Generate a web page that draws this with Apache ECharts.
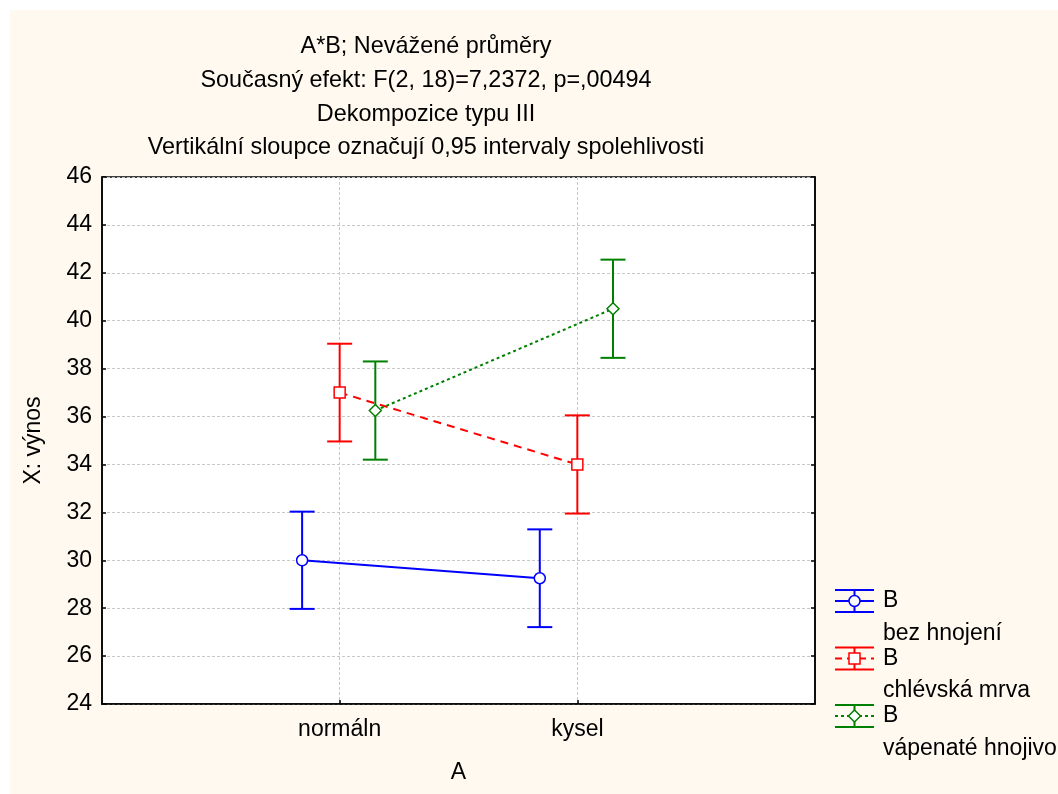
<!DOCTYPE html>
<html>
<head>
<meta charset="utf-8">
<script src="https://cdn.jsdelivr.net/npm/echarts@6/dist/echarts.min.js"></script>
<style>
  html, body { margin: 0; padding: 0; background: #fff; }
  #chart { width: 1058px; height: 794px; }
</style>
</head>
<body>
<div id="chart"></div>
<script>
// levels of factor A (x axis) and factor B (one line per level)
const categories = ['normáln', 'kysel'];
const groupNames = ['bez hnojení', 'chlévská mrva', 'vápenaté hnojivo'];
const groupColors = ['#0000ff', '#ff0000', '#008000'];

// unweighted means of X: výnos, per level of A
const meanBez = [30.0, 29.25];
const meanMrva = [37.0, 34.0];
const meanVapno = [36.25, 40.5];

// half width of the 0,95 confidence interval
const ciBez = [2.03, 2.04];
const ciMrva = [2.04, 2.05];
const ciVapno = [2.05, 2.05];

const yTicks = { min: 24, max: 46, step: 2 };

const FONT = 'Arial, "Liberation Sans", sans-serif';
const means = [meanBez, meanMrva, meanVapno];
const cis = [ciBez, ciMrva, ciVapno];
// small horizontal dodge so the bars do not overlap
const dodge = [-0.158, 0, 0.15];
const symbols = ['circle', 'rect', 'diamond'];
const symbolSizes = [11, 11, 12];
const lineTypes = ['solid', [8, 6], [3, 3]];

const chartContainer = document.getElementById('chart');
const chart = echarts.init(chartContainer, null, { renderer: 'canvas' });

const lineSeries = means.map((m, g) => ({
  name: groupNames[g],
  type: 'line',
  z: 5,
  data: m.map((v, i) => [i + 1 + dodge[g], v]),
  symbol: symbols[g],
  symbolSize: symbolSizes[g],
  showSymbol: true,
  itemStyle: { color: '#fff', borderColor: groupColors[g], borderWidth: 1.5 },
  lineStyle: { color: groupColors[g], width: 2, type: lineTypes[g] },
  emphasis: { disabled: true },
  animation: false
}));

const errorSeries = means.map((m, g) => ({
  name: groupNames[g] + ' CI',
  type: 'custom',
  z: 3,
  data: m.map((v, i) => [i + 1 + dodge[g], v - cis[g][i], v + cis[g][i]]),
  renderItem: (params, api) => {
    const x = api.value(0);
    const top = api.coord([x, api.value(2)]);
    const bot = api.coord([x, api.value(1)]);
    const hw = 12.5;
    const style = { stroke: groupColors[g], lineWidth: 2 };
    return {
      type: 'group',
      children: [
        { type: 'line', shape: { x1: top[0], y1: top[1], x2: bot[0], y2: bot[1] }, style },
        { type: 'line', shape: { x1: top[0] - hw, y1: top[1], x2: top[0] + hw, y2: top[1] }, style },
        { type: 'line', shape: { x1: bot[0] - hw, y1: bot[1], x2: bot[0] + hw, y2: bot[1] }, style }
      ]
    };
  },
  animation: false
}));

// legend drawn by hand: the glyph is an error bar with the marker on it
const legendX = 835, legendY0 = 601, legendStep = 57.5;
const legendItems = [];
groupNames.forEach((name, g) => {
  const cy = legendY0 + g * legendStep;
  const c = groupColors[g];
  const cx = legendX + 19.5;
  const st = { stroke: c, lineWidth: 2 };
  const dash = g === 0 ? null : (g === 1 ? [7, 5] : [3, 3]);
  let marker;
  if (g === 0) marker = { type: 'circle', shape: { cx, cy, r: 5.5 }, style: { fill: '#fff', stroke: c, lineWidth: 1.5 } };
  else if (g === 1) marker = { type: 'rect', shape: { x: cx - 5.5, y: cy - 5.5, width: 11, height: 11 }, style: { fill: '#fff', stroke: c, lineWidth: 1.5 } };
  else marker = { type: 'polygon', shape: { points: [[cx, cy - 6], [cx + 6, cy], [cx, cy + 6], [cx - 6, cy]] }, style: { fill: '#fff', stroke: c, lineWidth: 1.5 } };
  legendItems.push(
    { type: 'line', shape: { x1: legendX, y1: cy - 11, x2: legendX + 39, y2: cy - 11 }, style: st },
    { type: 'line', shape: { x1: legendX, y1: cy + 11, x2: legendX + 39, y2: cy + 11 }, style: st },
    { type: 'line', shape: { x1: cx, y1: cy - 11, x2: cx, y2: cy + 11 }, style: st },
    { type: 'line', shape: { x1: legendX, y1: cy, x2: legendX + 39, y2: cy }, style: { stroke: c, lineWidth: 2, lineDash: dash } },
    marker,
    { type: 'text', x: 883, y: cy, style: { text: 'B', font: '23px ' + FONT, fill: '#000', textVerticalAlign: 'middle' } },
    { type: 'text', x: 883, y: cy + 32.5, style: { text: name, font: '23px ' + FONT, fill: '#000', textVerticalAlign: 'middle' } }
  );
});

const axisCommon = {
  axisLine: { show: true, lineStyle: { color: '#000', width: 1.5 } },
  axisTick: { show: true, inside: true, length: 4, lineStyle: { color: '#000', width: 1.5 } },
  splitLine: { show: true, lineStyle: { color: '#c8c8c8', width: 1, type: [3, 2] } }
};

const option = {
  backgroundColor: '#ffffff',
  textStyle: { fontFamily: FONT },
  title: {
    text: 'A*B; Nevážené průměry\nSoučasný efekt: F(2, 18)=7,2372, p=,00494\nDekompozice typu III\nVertikální sloupce označují 0,95 intervaly spolehlivosti',
    left: 421,
    top: 25,
    textAlign: 'center',
    textStyle: { fontFamily: FONT, fontSize: 23.4, fontWeight: 'normal', color: '#000', lineHeight: 33.7 }
  },
  grid: {
    left: 102, right: 243, top: 177, bottom: 90,
    show: true, backgroundColor: '#ffffff', borderColor: '#000', borderWidth: 1.5,
    containLabel: false
  },
  xAxis: {
    type: 'value',
    min: 0, max: 3, interval: 1,
    name: 'A', nameLocation: 'middle', nameGap: 57,
    nameTextStyle: { fontFamily: FONT, fontSize: 23, color: '#000' },
    ...axisCommon,
    axisTick: { ...axisCommon.axisTick, customValues: [1, 2] },
    axisLabel: {
      fontFamily: FONT, fontSize: 23, color: '#000', margin: 14,
      customValues: [1, 2],
      formatter: v => categories[v - 1] || ''
    }
  },
  yAxis: [{
    type: 'value',
    min: yTicks.min, max: yTicks.max, interval: yTicks.step,
    name: 'X: výnos', nameLocation: 'middle', nameGap: 57,
    nameTextStyle: { fontFamily: FONT, fontSize: 23, color: '#000' },
    ...axisCommon,
    axisLabel: { fontFamily: FONT, fontSize: 23, color: '#000', margin: 10 }
  }, {
    type: 'value', position: 'right',
    min: yTicks.min, max: yTicks.max, interval: yTicks.step,
    ...axisCommon,
    splitLine: { show: false },
    axisLabel: { show: false }
  }],
  graphic: [
    { type: 'rect', z: -10, shape: { x: 10, y: 10, width: 1048, height: 784 }, style: { fill: '#fff9ef' }, silent: true },
    { type: 'group', children: legendItems }
  ],
  series: [...errorSeries, ...lineSeries],
  animation: false
};

chart.setOption(option);
</script>
</body>
</html>
